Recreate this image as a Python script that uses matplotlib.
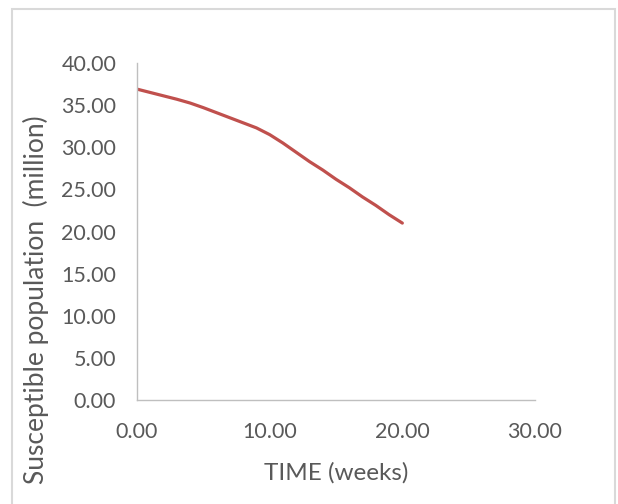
import matplotlib
matplotlib.use('Agg')
import matplotlib.pyplot as plt
from matplotlib.patches import Rectangle

plt.rcParams['font.family'] = ['Lato', 'DejaVu Sans']

# 易感人群随时间变化（周）
weeks = [0, 1, 2, 3, 4, 5, 6, 7, 8, 9, 10, 11, 12, 13, 14, 15, 16, 17, 18, 19, 20]
susceptible = [36.9, 36.5, 36.1, 35.7, 35.25, 34.7, 34.1, 33.5, 32.9, 32.3, 31.5,
               30.5, 29.4, 28.3, 27.3, 26.2, 25.2, 24.1, 23.1, 22.0, 21.0]
x_ticks = [0, 10, 20, 30]
y_ticks = [0, 5, 10, 15, 20, 25, 30, 35, 40]

text_color = '#595959'
axis_color = '#BFBFBF'

fig = plt.figure(figsize=(6.18, 5.04), dpi=100)
ax = fig.add_axes([0.2217, 0.2063, 0.8657 - 0.2217, 0.875 - 0.2063])

ax.plot(weeks, susceptible, color='#C0504D', linewidth=2.3, solid_capstyle='round')

ax.set_xlim(0, 30)
ax.set_ylim(0, 40)
ax.set_xticks(x_ticks)
ax.set_yticks(y_ticks)
ax.set_xticklabels([f'{v:.2f}' for v in x_ticks])
ax.set_yticklabels([f'{v:.2f}' for v in y_ticks])
ax.tick_params(length=0, labelsize=15.5, colors=text_color)
ax.tick_params(axis='x', pad=16)
ax.tick_params(axis='y', pad=15)

for side in ['top', 'right']:
    ax.spines[side].set_visible(False)
for side in ['left', 'bottom']:
    ax.spines[side].set_color(axis_color)
    ax.spines[side].set_linewidth(1.0)

ax.set_xlabel('TIME (weeks)', fontsize=17.5, color=text_color, labelpad=14)
ax.set_ylabel('Susceptible population  (million)', fontsize=19, color=text_color)
# 纵轴标题位置偏下
ax.yaxis.set_label_coords(-0.222, 0.297)

# 外框
fig.patches.append(Rectangle((12 / 618, -0.01), (615 - 12) / 618, 1 - 9 / 504 + 0.01,
                             transform=fig.transFigure, fill=False,
                             edgecolor='#D9D9D9', linewidth=1.5))

fig.savefig('out.png', dpi=100)
